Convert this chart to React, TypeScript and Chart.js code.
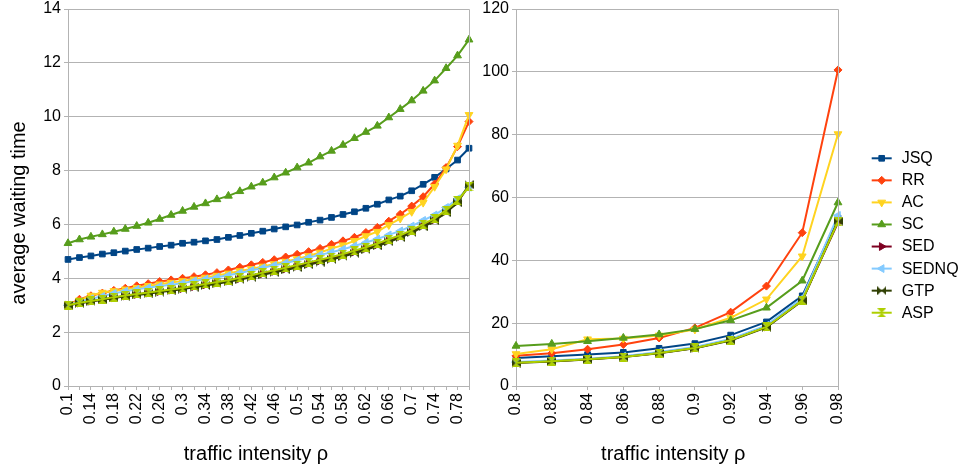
import React, { useEffect, useRef } from 'react';
import { Chart, registerables, PointElement } from 'chart.js';
Chart.register(...registerables);

const leftRho = ['0.1','0.12','0.14','0.16','0.18','0.2','0.22','0.24','0.26','0.28','0.3','0.32','0.34','0.36','0.38','0.4','0.42','0.44','0.46','0.48','0.5','0.52','0.54','0.56','0.58','0.6','0.62','0.64','0.66','0.68','0.7','0.72','0.74','0.76','0.78','0.8'];
const rightRho = ['0.8','0.82','0.84','0.86','0.88','0.9','0.92','0.94','0.96','0.98'];

const leftYTicks = [0, 2, 4, 6, 8, 10, 12, 14];
const rightYTicks = [0, 20, 40, 60, 80, 100, 120];

const SERIES = ['JSQ', 'RR', 'AC', 'SC', 'SED', 'SEDNQ', 'GTP', 'ASP'];
const COLORS = ['#004586', '#ff420e', '#ffd320', '#579d1c', '#7e0021', '#83caff', '#314004', '#aecf00'];

// left panel (rho 0.1 .. 0.8)
const jsqL = [4.70, 4.77, 4.83, 4.90, 4.95, 5.01, 5.07, 5.12, 5.18, 5.23, 5.30, 5.34, 5.39, 5.44, 5.52, 5.59, 5.67, 5.75, 5.83, 5.91, 5.98, 6.08, 6.16, 6.26, 6.37, 6.47, 6.60, 6.75, 6.91, 7.05, 7.25, 7.49, 7.75, 8.06, 8.39, 8.83];
const rrL = [3.00, 3.22, 3.35, 3.45, 3.55, 3.63, 3.72, 3.80, 3.88, 3.94, 4.00, 4.06, 4.13, 4.21, 4.31, 4.41, 4.50, 4.59, 4.69, 4.79, 4.89, 4.99, 5.11, 5.26, 5.39, 5.52, 5.70, 5.89, 6.12, 6.38, 6.68, 7.03, 7.50, 8.11, 8.89, 9.82];
const acL = [3.00, 3.18, 3.36, 3.47, 3.53, 3.59, 3.65, 3.72, 3.78, 3.84, 3.90, 3.96, 4.03, 4.10, 4.18, 4.27, 4.35, 4.44, 4.53, 4.62, 4.72, 4.83, 4.96, 5.10, 5.23, 5.39, 5.57, 5.73, 5.98, 6.22, 6.47, 6.81, 7.40, 8.05, 8.93, 10.07];
const scL = [5.30, 5.44, 5.54, 5.63, 5.73, 5.83, 5.94, 6.06, 6.20, 6.35, 6.50, 6.65, 6.78, 6.93, 7.06, 7.23, 7.40, 7.55, 7.74, 7.92, 8.11, 8.29, 8.52, 8.73, 8.95, 9.20, 9.43, 9.66, 9.97, 10.28, 10.60, 10.96, 11.34, 11.80, 12.27, 12.86];
const sedL = [3.00, 3.08, 3.15, 3.21, 3.28, 3.34, 3.40, 3.45, 3.51, 3.56, 3.62, 3.69, 3.76, 3.83, 3.90, 3.99, 4.08, 4.17, 4.26, 4.35, 4.45, 4.55, 4.65, 4.75, 4.86, 4.98, 5.11, 5.25, 5.41, 5.56, 5.75, 5.97, 6.18, 6.49, 6.85, 7.42];
const sednqL = [3.00, 3.13, 3.24, 3.33, 3.44, 3.52, 3.59, 3.65, 3.71, 3.76, 3.82, 3.90, 3.97, 4.04, 4.11, 4.20, 4.29, 4.39, 4.48, 4.57, 4.67, 4.77, 4.87, 4.97, 5.08, 5.20, 5.33, 5.46, 5.61, 5.76, 5.94, 6.15, 6.35, 6.63, 6.95, 7.38];
const gtpL = [3.00, 3.07, 3.14, 3.20, 3.27, 3.33, 3.38, 3.43, 3.49, 3.54, 3.60, 3.67, 3.73, 3.80, 3.87, 3.95, 4.04, 4.13, 4.22, 4.31, 4.40, 4.50, 4.60, 4.70, 4.81, 4.93, 5.06, 5.20, 5.35, 5.51, 5.70, 5.91, 6.13, 6.44, 6.80, 7.48];
const aspL = [3.00, 3.09, 3.16, 3.22, 3.30, 3.36, 3.42, 3.47, 3.53, 3.58, 3.64, 3.72, 3.79, 3.86, 3.93, 4.02, 4.11, 4.21, 4.30, 4.39, 4.49, 4.59, 4.69, 4.79, 4.90, 5.02, 5.15, 5.29, 5.45, 5.60, 5.79, 6.01, 6.22, 6.53, 6.88, 7.40];

// right panel (rho 0.8 .. 0.98)
const jsqR = [8.9, 9.5, 10.0, 10.7, 12.0, 13.5, 16.2, 20.4, 28.7, 53.5];
const rrR = [9.6, 10.4, 11.7, 13.2, 15.3, 18.5, 23.5, 31.8, 48.8, 100.6];
const acR = [10.2, 11.7, 14.9, 15.1, 16.1, 18.0, 21.7, 27.6, 41.3, 80.2];
const scR = [12.75, 13.4, 14.25, 15.3, 16.4, 18.1, 20.9, 24.9, 33.5, 58.4];
const sedR = [7.5, 7.9, 8.5, 9.3, 10.5, 12.1, 14.6, 18.8, 27.3, 52.0];
const sednqR = [7.6, 8.1, 8.7, 9.5, 10.8, 12.4, 15.0, 19.3, 28.0, 54.3];
const gtpR = [7.3, 7.8, 8.4, 9.2, 10.4, 12.0, 14.5, 18.7, 27.1, 52.5];
const aspR = [7.4, 7.9, 8.5, 9.2, 10.5, 12.1, 14.6, 18.8, 27.3, 52.3];

const GRID = '#b3b3b3';
const FONT = "'Liberation Sans', Arial, sans-serif";

function makeBowtie(color: string, vertical: boolean) {
  const s = 9;
  const c = document.createElement('canvas');
  c.width = s; c.height = s;
  const ctx = c.getContext('2d')!;
  ctx.fillStyle = color;
  ctx.beginPath();
  if (!vertical) {
    ctx.moveTo(0, 0); ctx.lineTo(s / 2, s / 2); ctx.lineTo(0, s); ctx.closePath();
    ctx.moveTo(s, 0); ctx.lineTo(s / 2, s / 2); ctx.lineTo(s, s); ctx.closePath();
  } else {
    ctx.moveTo(0, 0); ctx.lineTo(s, 0); ctx.lineTo(s / 2, s / 2); ctx.closePath();
    ctx.moveTo(0, s); ctx.lineTo(s, s); ctx.lineTo(s / 2, s / 2); ctx.closePath();
  }
  ctx.fill();
  return c;
}

export default function App() {
  const leftRef = useRef<HTMLCanvasElement>(null);
  const rightRef = useRef<HTMLCanvasElement>(null);

  useEffect(() => {
    const styles: any[] = ['rect', 'rectRot', 'triangle', 'triangle', 'triangle', 'triangle', makeBowtie(COLORS[6], false), makeBowtie(COLORS[7], true)];
    const rotations = [0, 0, 180, 0, 90, -90, 0, 0];
    const radii = [4, 4, 4.5, 4.5, 4.5, 4.5, 4.5, 4.5];

    const build = (vals: number[][]) => SERIES.map((name, k) => ({
      label: name,
      data: vals[k],
      borderColor: COLORS[k],
      backgroundColor: COLORS[k],
      borderWidth: 2,
      pointStyle: styles[k],
      pointRotation: rotations[k],
      pointRadius: radii[k],
      pointHoverRadius: radii[k],
      pointBorderWidth: 1,
      pointBorderColor: COLORS[k],
      pointBackgroundColor: COLORS[k],
      tension: 0,
      fill: false,
      order: 7 - k,
    }));

    const borderPlugin = {
      id: 'plotBorder',
      afterDraw(chart: any) {
        const { ctx, chartArea: a } = chart;
        ctx.save();
        ctx.strokeStyle = GRID;
        ctx.lineWidth = 1;
        ctx.beginPath();
        const r = Math.round(a.right) + 0.5;
        const t = Math.round(a.top) + 0.5;
        ctx.moveTo(Math.round(a.left) + 0.5, t);
        ctx.lineTo(r, t);
        ctx.lineTo(r, Math.round(a.bottom) + 0.5);
        ctx.stroke();
        ctx.restore();
      },
    };

    const titlePlugin = (xTitle: string, xCenter: number, yTitle: string | null, yBase: number, yCenter: number) => ({
      id: 'axisTitles',
      afterDraw(chart: any) {
        const ctx = chart.ctx;
        ctx.save();
        ctx.fillStyle = '#000';
        ctx.font = `20px ${FONT}`;
        ctx.textAlign = 'center';
        ctx.textBaseline = 'alphabetic';
        ctx.fillText(xTitle, xCenter, 460);
        if (yTitle) {
          ctx.translate(yBase, yCenter);
          ctx.rotate(-Math.PI / 2);
          ctx.fillText(yTitle, 0, 0);
        }
        ctx.restore();
      },
    });

    const legendPlugin = {
      id: 'sideLegend',
      afterDraw(chart: any) {
        const ctx = chart.ctx;
        const big = { left: -1e4, top: -1e4, right: 1e4, bottom: 1e4 };
        ctx.save();
        chart.data.datasets.forEach((ds: any, k: number) => {
          const y = 158.3 + k * 22.06;
          ctx.strokeStyle = ds.borderColor;
          ctx.lineWidth = 2;
          ctx.beginPath();
          ctx.moveTo(391.7, y);
          ctx.lineTo(411.7, y);
          ctx.stroke();
          const p: any = new PointElement({});
          p.x = 401.7; p.y = y;
          p.options = {
            pointStyle: ds.pointStyle, rotation: ds.pointRotation, radius: ds.pointRadius,
            borderWidth: 1, borderColor: ds.borderColor, backgroundColor: ds.backgroundColor,
          };
          p.draw(ctx, big);
          ctx.fillStyle = '#000';
          ctx.font = `16px ${FONT}`;
          ctx.textAlign = 'left';
          ctx.textBaseline = 'middle';
          ctx.fillText(ds.label, 421.7, y + 0.5);
        });
        ctx.restore();
      },
    };

    const xAxis = (labels: string[], every: number, h: number) => ({
      type: 'category' as const,
      offset: false,
      grid: { display: true, drawOnChartArea: false, drawTicks: true, tickLength: 4, color: GRID },
      border: { display: true, color: GRID },
      ticks: {
        autoSkip: false, maxRotation: 90, minRotation: 90, padding: 3, color: '#000',
        font: { family: FONT, size: 16 },
        callback: (_v: any, i: number) => (i % every === 0 ? labels[i] : ''),
      },
      afterFit: (s: any) => { s.height = h; s.paddingLeft = 0; s.paddingRight = 0; },
    });

    const yAxis = (ticks: number[], w: number) => ({
      min: ticks[0],
      max: ticks[ticks.length - 1],
      grid: { color: GRID, tickLength: 4 },
      border: { display: true, color: GRID },
      ticks: { stepSize: ticks[1] - ticks[0], padding: 3, color: '#000', font: { family: FONT, size: 16 } },
      afterFit: (s: any) => { s.width = w; s.paddingTop = 0; s.paddingBottom = 0; },
    });

    const common = (padRight: number) => ({
      responsive: true,
      maintainAspectRatio: false,
      animation: false as const,
      layout: { padding: { top: 9, right: padRight, left: 0, bottom: 0 } },
      plugins: { legend: { display: false }, tooltip: { enabled: false } },
    });

    const c1 = new Chart(leftRef.current!, {
      type: 'line',
      data: { labels: leftRho, datasets: build([jsqL, rrL, acL, scL, sedL, sednqL, gtpL, aspL]) as any },
      options: {
        ...common(11),
        scales: { x: xAxis(leftRho, 2, 86), y: yAxis(leftYTicks, 68) },
      } as any,
      plugins: [borderPlugin, titlePlugin('traffic intensity ρ', 256, 'average waiting time', 25, 213)],
    });

    const c2 = new Chart(rightRef.current!, {
      type: 'line',
      data: { labels: rightRho, datasets: build([jsqR, rrR, acR, scR, sedR, sednqR, gtpR, aspR]) as any },
      options: {
        ...common(125),
        scales: { x: xAxis(rightRho, 1, 86), y: yAxis(rightYTicks, 36) },
      } as any,
      plugins: [borderPlugin, titlePlugin('traffic intensity ρ', 193.3, null, 0, 0), legendPlugin],
    });

    return () => { c1.destroy(); c2.destroy(); };
  }, []);

  return (
    <div style={{ position: 'fixed', left: 0, top: 0, width: 963, height: 472, background: '#fff' }}>
      <div style={{ position: 'absolute', left: 0, top: 0, width: 480, height: 472 }}>
        <canvas ref={leftRef} />
      </div>
      <div style={{ position: 'absolute', left: 480, top: 0, width: 483, height: 472 }}>
        <canvas ref={rightRef} />
      </div>
    </div>
  );
}
